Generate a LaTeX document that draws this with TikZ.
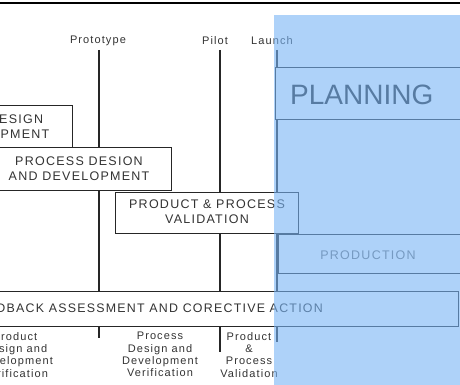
\documentclass[tikz,border=0pt]{standalone}
\usepackage{fontspec}
\setmainfont{Liberation Sans}
\newfontfamily\spc[LetterSpace=10]{Liberation Sans}
\begin{document}
\begin{tikzpicture}[x=1pt,y=-1pt,
  txt/.style={text=black!80, font=\spc\fontsize{11}{12.3}\selectfont, align=center, inner sep=0pt},
  boxtxt/.style={txt, font=\spc\fontsize{12.5}{15}\selectfont},
  stagebox/.style={draw=black!85, line width=1pt, fill=white},
  mile/.style={line width=1.8pt, draw=black!85},
  lbl/.style={text=black!80, font=\spc\fontsize{11}{13}\selectfont, inner sep=0pt}]
\useasboundingbox (0,0) rectangle (460,385);
\clip (0,0) rectangle (460,385);
% milestone lines
\node[lbl] (proto) at (98,41) {Prototype};
\node[lbl] (pilot) at (215,41) {Pilot};
\node[lbl] (launch) at (272,41) {Launch};
\coordinate (p1) at (99,50); \coordinate (p2) at (99,291);
\coordinate (q1) at (220,50); \coordinate (q2) at (220,291);
\coordinate (r1) at (277,50); \coordinate (r2) at (277,291);
\draw[mile] (p1) -- (p2);
\draw[mile] (q1) -- (q2);
\draw[mile] (r1) -- (r2);
% boxes
\draw[stagebox] (-120,106) rectangle (72,147);
\node[boxtxt] (b1) at (-21,127) {PRODUCT DESIGN\\AND DEVELOPMENT};
\draw[stagebox] (-12,147) rectangle (171,190);
\node[boxtxt] (b2) at (79,169) {PROCESS DESION\\AND DEVELOPMENT};
\draw[stagebox] (115,192) rectangle (298,233);
\node[boxtxt] (b3) at (207,212) {PRODUCT \& PROCESS\\VALIDATION};
\draw[stagebox] (275,68) rectangle (470,120);
\node[text=black!85, font=\fontsize{28}{30}\selectfont, anchor=west, inner sep=0pt] (plan) at (290,95) {PLANNING};
\draw[stagebox] (278,234) rectangle (470,273);
\node[boxtxt, text=black!55] (prod) at (368,255) {PRODUCTION};
\draw[stagebox] (-10,291) rectangle (458,326);
\node[txt, font=\spc\fontsize{12.4}{13}\selectfont, anchor=east] (fb) at (323,308) {FEEDBACK ASSESSMENT AND CORECTIVE ACTION};
% ticks
\coordinate (t1) at (99,338); \coordinate (t2) at (220,352); \coordinate (t3) at (277,342);
\coordinate (s1) at (99,326); \coordinate (s2) at (220,326); \coordinate (s3) at (277,326);
\draw[mile] (s1) -- (t1);
\draw[mile] (s2) -- (t2);
\draw[mile] (s3) -- (t3);
% bottom labels
\node[txt, anchor=north] (v1) at (15,332) {Product\\Design and\\Development\\Verification};
\node[txt, anchor=north] (v2) at (160,332) {Process\\Design and\\Development\\Verification};
\node[txt, anchor=north] (v3) at (249,332) {Product\\\&\\Process\\Validation};
% top rule and overlay
\fill[fill={rgb,255:red,120;green,180;blue,245}, fill opacity=0.6] (274,15) rectangle (470,400);
\draw[line width=2pt] (0,3) -- (460,3);
\end{tikzpicture}
\end{document}
